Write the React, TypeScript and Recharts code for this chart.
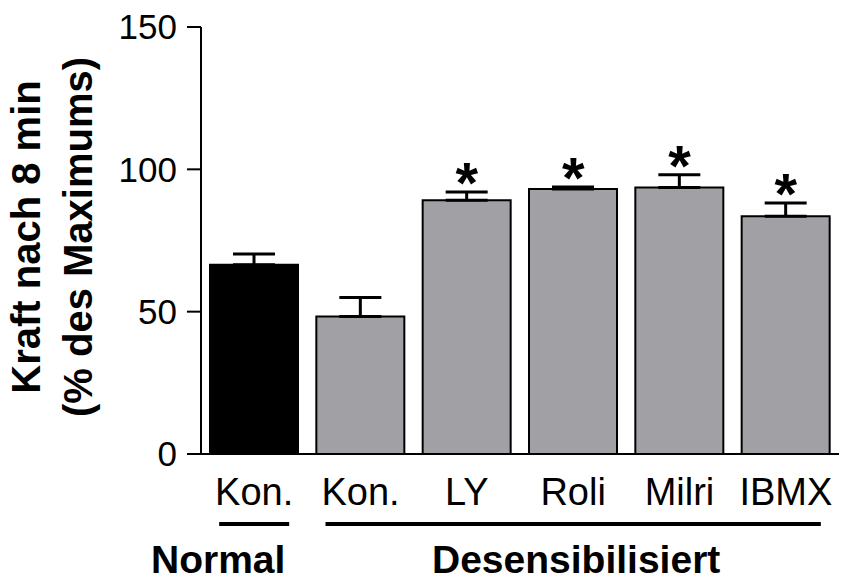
import React from "react";
import {
    Bar,
    Cell,
    ComposedChart,
    ErrorBar,
    Line,
    XAxis,
    YAxis,
} from "recharts";

const categories = ["Kon.", "Kon.", "LY", "Roli", "Milri", "IBMX"];
const means = [66.5, 48.3, 89.1, 93.1, 93.6, 83.5];
const sems = [3.8, 6.7, 2.9, 0.7, 4.5, 4.7];
const significant = [false, false, true, true, true, true];
const yTicks = [0, 50, 100, 150];
const groupNames = ["Normal", "Desensibilisiert"];
const groupStart = [0, 1];
const groupEnd = [0, 5];

const FONT = "Arial, 'Liberation Sans', sans-serif";
const WIDTH = 845;
const HEIGHT = 581;
const MARGIN = { top: 27, right: 6, left: 0, bottom: 0 };
const Y_AXIS_WIDTH = 201;
const BAR_SIZE = 88;
const BAND = (WIDTH - MARGIN.left - MARGIN.right - Y_AXIS_WIDTH) / categories.length;
const BRACKET_INSET = 9;
const groupLabelDx = [-36, 3];
const barColors = ["#000000", "#a1a0a5", "#a1a0a5", "#a1a0a5", "#a1a0a5", "#a1a0a5"];

const data = categories.map((name, i) => ({
    key: `${name}-${i}`,
    name,
    mean: means[i],
    err: [0, sems[i]],
    star: significant[i] ? means[i] + sems[i] : null,
}));

const XTick = (props: any) => {
    const { x, y, index } = props;
    const g = groupStart.indexOf(index);
    let bracket = null;
    if (g !== -1) {
        const x1 = x - BAR_SIZE / 2 + BRACKET_INSET;
        const x2 = x + (groupEnd[g] - groupStart[g]) * BAND + BAR_SIZE / 2 - BRACKET_INSET;
        bracket = (
            <g>
                <line x1={x1} x2={x2} y1={y + 70} y2={y + 70} stroke="#000" strokeWidth={4} />
                <text
                    x={(x1 + x2) / 2 + groupLabelDx[g]}
                    y={y + 119}
                    textAnchor="middle"
                    fontFamily={FONT}
                    fontWeight="bold"
                    fontSize={39}
                    fill="#000"
                >
                    {groupNames[g]}
                </text>
            </g>
        );
    }
    return (
        <g>
            <text x={x} y={y + 51} textAnchor="middle" fontFamily={FONT} fontSize={38} fill="#000">
                {categories[index]}
            </text>
            {bracket}
        </g>
    );
};

const Star = (props: any) => {
    const { cx, cy, payload } = props;
    if (payload.star == null || cy == null) return <g />;
    return (
        <text x={cx} y={cy + 11} textAnchor="middle" fontFamily={FONT} fontWeight="bold" fontSize={58} fill="#000">
            *
        </text>
    );
};

const YLabel = () => (
    <g fontFamily={FONT} fontWeight="bold" fontSize={40} fill="#000">
        <text transform="translate(40, 237) rotate(-90)" textAnchor="middle">
            Kraft nach 8 min
        </text>
        <text transform="translate(92, 237) rotate(-90)" textAnchor="middle">
            (% des Maximums)
        </text>
    </g>
);

export default function App() {
    return (
        <div style={{ position: "absolute", left: 0, top: 0, background: "#fff" }}>
            <ComposedChart width={WIDTH} height={HEIGHT} data={data} margin={MARGIN}>
                <XAxis
                    dataKey="key"
                    height={HEIGHT - 454}
                    tickLine={false}
                    tickSize={0}
                    tickMargin={0}
                    interval={0}
                    tick={<XTick />}
                    axisLine={{ stroke: "#000", strokeWidth: 2 }}
                />
                <YAxis
                    width={Y_AXIS_WIDTH}
                    domain={[0, 150]}
                    ticks={yTicks}
                    tickSize={14}
                    tickMargin={10}
                    tickLine={{ stroke: "#000", strokeWidth: 2 }}
                    axisLine={{ stroke: "#000", strokeWidth: 2 }}
                    tick={{ fill: "#000", fontSize: 35, fontFamily: FONT }}
                    label={{ content: <YLabel /> }}
                />
                <Bar dataKey="mean" barSize={BAR_SIZE} stroke="#000" strokeWidth={2} isAnimationActive={false}>
                    {data.map((d, i) => (
                        <Cell key={d.key} fill={barColors[i]} />
                    ))}
                    <ErrorBar dataKey="err" width={21} stroke="#000" strokeWidth={3} direction="y" />
                </Bar>
                <Line
                    dataKey="star"
                    stroke="none"
                    dot={<Star />}
                    activeDot={false}
                    legendType="none"
                    isAnimationActive={false}
                />
            </ComposedChart>
        </div>
    );
}
